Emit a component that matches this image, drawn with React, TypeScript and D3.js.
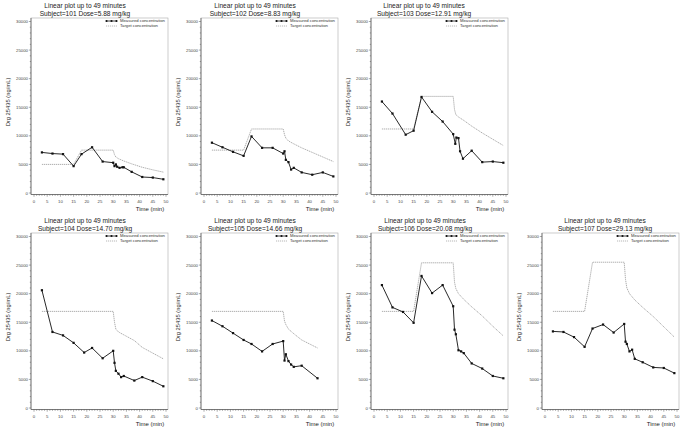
import React from "react";
import * as d3 from "d3";

const subjects = ["101", "102", "103", "104", "105", "106", "107"];
const doses = ["5.88", "8.83", "12.91", "14.70", "14.66", "20.08", "29.13"];
const titleText = "Linear plot up to 49 minutes";
const yLabel = "Drg 25435 (ng/mL)";
const xLabel = "Time (min)";
const legendLabels = ["Measured concentration", "Target concentration"];
const yTicks = [0, 5000, 10000, 15000, 20000, 25000, 30000];
const xTicks = [0, 5, 10, 15, 20, 25, 30, 35, 40, 45, 50];

const measuredTimes: number[][] = [
  [3, 7, 11, 15, 18, 22, 26, 30, 30.5, 31, 31.5, 32.4, 33.5, 34, 37, 41, 45, 49],
  [3, 7, 11, 15, 18, 22, 26, 30, 30.5, 31, 32, 33, 34, 37, 41, 45, 49],
  [3, 7, 12, 15, 18, 22, 26, 30, 30.8, 31.2, 32, 32.6, 33.7, 37, 41, 45, 49],
  [3, 7, 11, 15, 19, 22, 26, 30, 30.5, 31, 32, 33, 34, 38, 41, 45, 49],
  [3, 7, 11, 15, 18, 22, 26, 30, 30.5, 31, 32, 33, 34, 37, 43],
  [3, 7, 11, 15, 18, 22, 26, 30, 30.5, 31, 32, 33, 34, 37, 41, 45, 49],
  [3, 7, 11, 15, 18, 22, 26, 30, 30.5, 31, 32, 33, 34, 37, 41, 45, 49],
];
const measuredValues: number[][] = [
  [7100, 6900, 6800, 4700, 6800, 8000, 5500, 5300, 4700, 5000, 4600, 4400, 4500, 4500, 3700, 2800, 2700, 2400],
  [8800, 8000, 7200, 6500, 9900, 7900, 7900, 6900, 7300, 5800, 5400, 4100, 4400, 3600, 3200, 3600, 2900],
  [16000, 13900, 10200, 10900, 16800, 14200, 12500, 10300, 8600, 9700, 9600, 7300, 6000, 7400, 5400, 5500, 5300],
  [20600, 13300, 12700, 11400, 9700, 10500, 8700, 10000, 7900, 6500, 6000, 5400, 5600, 4800, 5400, 4700, 3800],
  [15300, 14300, 13100, 11900, 11200, 9900, 11200, 11700, 8300, 9400, 8200, 7600, 7200, 7400, 5200],
  [21500, 17600, 16800, 14900, 23100, 20100, 21500, 17800, 13700, 12900, 10100, 9900, 9600, 7800, 6900, 5600, 5200],
  [13400, 13300, 12400, 10700, 13900, 14600, 13200, 14700, 11600, 11200, 9900, 10200, 8600, 8000, 7100, 7000, 6100],
];

const targetTimes: number[][] = [
  [3, 15, 18, 30, 30.5, 31, 32, 34, 37, 41, 45, 49],
  [3, 15, 18, 30, 30.5, 31, 32, 34, 37, 41, 45, 49],
  [3, 15, 18, 30, 30.5, 31, 32, 34, 37, 41, 45, 49],
  [3, 30, 30.5, 31, 32, 34, 38, 41, 45, 49],
  [3, 30, 30.5, 31, 32, 34, 37, 40, 43],
  [3, 15, 18, 30, 30.5, 31, 32, 34, 37, 41, 45, 49],
  [3, 15, 18, 30, 30.5, 31, 32, 34, 37, 41, 45, 49],
];
const targetValues: number[][] = [
  [5000, 5000, 7500, 7500, 6700, 6300, 6000, 5600, 5100, 4500, 4050, 3650],
  [7500, 7500, 11200, 11200, 10200, 9600, 9100, 8600, 7900, 7100, 6300, 5500],
  [11200, 11200, 16900, 16900, 14600, 13700, 13300, 12700, 11700, 10500, 9400, 8300],
  [16900, 16900, 15000, 13800, 13300, 12800, 11800, 10600, 9600, 8600],
  [16900, 16900, 15200, 14600, 13800, 13000, 11900, 11200, 10500],
  [16900, 16900, 25400, 25400, 22000, 20900, 20000, 19000, 17700, 16100, 14300, 12600],
  [16900, 16900, 25500, 25500, 22500, 21000, 20000, 18900, 17600, 16000, 14200, 12400],
];

// layout (not data)
const panelOrigins: [number, number][] = [
  [0, 0], [170, 0], [340, 0],
  [0, 215], [170, 215], [340, 215], [511, 215],
];
const titleDx = [85, 85, 84, 85, 85, 85, 94];

const FONT = "'Liberation Sans', Arial, sans-serif";

function Panel({ idx }: { idx: number }) {
  const [ox, oy] = panelOrigins[idx];
  const x = d3.scaleLinear().domain([0, 50]).range([ox + 34, ox + 166]);
  const y = d3.scaleLinear().domain([0, 30000]).range([oy + 193, oy + 21.5]);
  const left = ox + 31, right = ox + 168, top = oy + 18, bottom = oy + 194.5;

  const mPts = measuredTimes[idx].map((t, i) => [t, measuredValues[idx][i]] as [number, number]);
  const tPts = targetTimes[idx].map((t, i) => [t, targetValues[idx][i]] as [number, number]);
  const line = d3.line<[number, number]>().x((d) => x(d[0])).y((d) => y(d[1]));

  const minorY = d3.range(0, 30001, 1000);
  const minorX = d3.range(0, 51, 1);
  const tx = ox + titleDx[idx];

  return (
    <g>
      <text x={tx} y={oy + 7.5} fontSize={6.6} textAnchor="middle" fill="#222" fontFamily={FONT}>
        {titleText}
      </text>
      <text x={tx} y={oy + 16.2} fontSize={6.6} textAnchor="middle" fill="#222" fontFamily={FONT}>
        {`Subject=${subjects[idx]}  Dose=${doses[idx]}  mg/kg`}
      </text>
      <rect x={left} y={top} width={right - left} height={bottom - top} fill="none" stroke="#aaa" strokeWidth={0.6} />
      <line x1={left} x2={left} y1={top} y2={bottom} stroke="#555" strokeWidth={0.7} />
      <line x1={left} x2={right} y1={bottom} y2={bottom} stroke="#555" strokeWidth={0.7} />
      {minorY.map((v) => (
        <line key={"my" + v} x1={left - (v % 5000 === 0 ? 2.2 : 1.2)} x2={left} y1={y(v)} y2={y(v)} stroke="#555" strokeWidth={0.5} />
      ))}
      {yTicks.map((v) => (
        <text key={"yt" + v} x={left - 3} y={y(v) + 1.5} fontSize={4.3} textAnchor="end" fill="#444" fontFamily={FONT}>
          {v}
        </text>
      ))}
      {minorX.map((v) => (
        <line key={"mx" + v} x1={x(v)} x2={x(v)} y1={bottom} y2={bottom + (v % 5 === 0 ? 2.2 : 1.3)} stroke="#555" strokeWidth={0.5} />
      ))}
      {xTicks.map((v) => (
        <text key={"xt" + v} x={x(v)} y={bottom + 8} fontSize={4.3} textAnchor="middle" fill="#444" fontFamily={FONT}>
          {v}
        </text>
      ))}
      <text x={ox + 150} y={oy + 211} fontSize={6} textAnchor="middle" fill="#222" fontFamily={FONT}>
        {xLabel}
      </text>
      <text
        transform={`translate(${ox + 9.5},${oy + 102}) rotate(-90)`}
        fontSize={5.8}
        textAnchor="middle"
        fill="#222"
        fontFamily={FONT}
      >
        {yLabel}
      </text>
      {/* legend */}
      <line x1={ox + 106} x2={ox + 117} y1={oy + 21} y2={oy + 21} stroke="#111" strokeWidth={0.8} />
      {[106.5, 111.5, 116.5].map((d) => (
        <circle key={"ld" + d} cx={ox + d} cy={oy + 21} r={1.1} fill="#111" />
      ))}
      <text x={ox + 120} y={oy + 22.4} fontSize={4.2} fill="#333" fontFamily={FONT}>
        {legendLabels[0]}
      </text>
      <line x1={ox + 106} x2={ox + 117} y1={oy + 26} y2={oy + 26} stroke="#999" strokeWidth={0.7} strokeDasharray="1.2 0.8" />
      <text x={ox + 120} y={oy + 27.4} fontSize={4.2} fill="#333" fontFamily={FONT}>
        {legendLabels[1]}
      </text>
      {/* target */}
      <path d={line(tPts) || ""} fill="none" stroke="#999" strokeWidth={0.8} strokeDasharray="1.3 0.7" />
      {/* measured */}
      <path d={line(mPts) || ""} fill="none" stroke="#111" strokeWidth={0.9} />
      {mPts.map((p, i) => (
        <rect key={"m" + i} x={x(p[0]) - 1.1} y={y(p[1]) - 1.1} width={2.2} height={2.2} fill="#111" />
      ))}
    </g>
  );
}

export default function App() {
  return (
    <svg width={685} height={432} style={{ display: "block", position: "absolute", left: 0, top: 0, background: "#fff" }}>
      <rect x={0} y={0} width={685} height={432} fill="#fff" />
      {subjects.map((_, i) => (
        <Panel key={i} idx={i} />
      ))}
    </svg>
  );
}
